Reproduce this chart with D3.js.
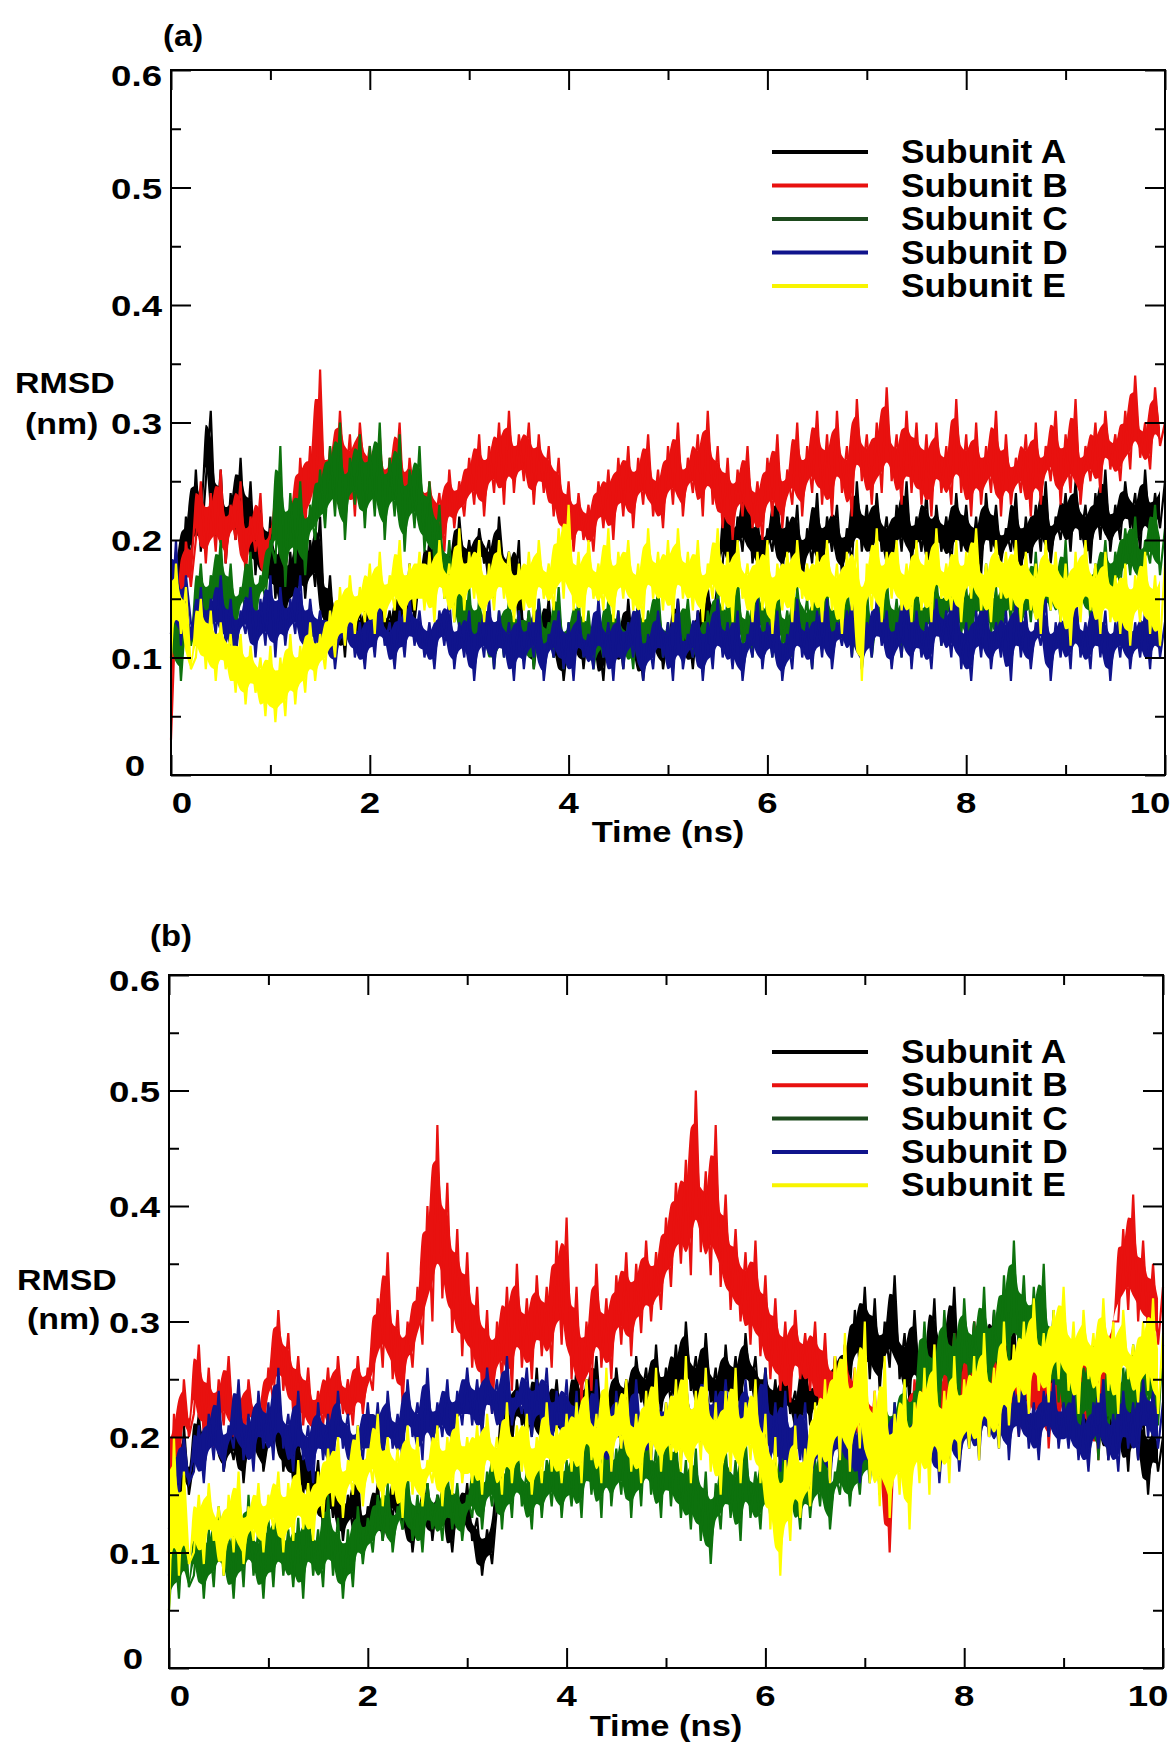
<!DOCTYPE html>
<html><head><meta charset="utf-8">
<script src="https://cdn.jsdelivr.net/npm/d3@7"></script>
<style>
body{margin:0;background:#fff}
svg{display:block;background:#fff}
text{font-family:"Liberation Sans",Arial,Helvetica,sans-serif;font-weight:bold;fill:#000}
</style>
</head><body>
<svg id="chart" width="1174" height="1743"></svg>
<script>
// ---------------- data ----------------
const subunits = ["Subunit A","Subunit B","Subunit C","Subunit D","Subunit E"];
const xMajorTicks = [0,2,4,6,8,10];
const xMinorTicks = [1,3,5,7,9];
const xTickLabels = ["0","2","4","6","8","10"];
const yMajorTicks = [0,0.1,0.2,0.3,0.4,0.5,0.6];
const yMinorTicks = [0.05,0.15,0.25,0.35,0.45,0.55];
const yTickLabels = ["0","0.1","0.2","0.3","0.4","0.5","0.6"];
const timeRange = [0,10];          // ns, samples evenly spaced
const panelLabels = ["(a)","(b)"];
const xTitle = "Time (ns)";
const yTitle = ["RMSD","(nm)"];

// panel (a) RMSD (nm), sampled every 0.05 ns
const aSubA = [0.12,0.19,0.15,0.22,0.18,
0.26,0.19,0.25,0.31,0.2,0.26,0.18,0.24,0.2,0.27,0.19,0.25,0.17,0.23,0.16,0.22,
0.15,0.2,0.13,0.19,0.14,0.21,0.15,0.2,0.16,0.22,
0.12,0.17,0.11,0.15,0.1,0.16,0.12,0.14,0.1,0.15,0.11,0.17,0.12,0.14,0.1,0.16,0.12,0.18,0.13,0.17,
0.16,0.2,0.15,0.21,0.17,0.19,0.16,0.22,0.17,0.2,0.16,0.21,0.18,0.2,0.15,0.22,0.17,0.19,0.15,0.2,
0.1,0.14,0.09,0.13,0.11,0.15,0.1,0.13,0.08,0.12,0.1,0.14,0.09,0.13,0.11,0.12,0.08,0.14,0.1,0.13,
0.09,0.15,0.1,0.12,0.08,0.13,0.1,0.14,0.09,0.12,0.11,0.15,0.1,0.13,0.09,0.14,0.11,0.16,0.12,0.15,
0.18,0.23,0.17,0.22,0.19,0.25,0.18,0.22,0.17,0.21,
0.19,0.24,0.17,0.22,0.18,0.23,0.16,0.21,0.18,0.24,0.17,0.22,0.19,0.23,0.17,0.21,0.18,0.25,0.19,0.23,
0.18,0.24,0.19,0.22,0.17,0.23,0.19,0.25,0.18,0.22,0.19,0.24,0.17,0.23,0.19,0.22,0.18,0.24,0.19,0.23,
0.18,0.22,0.17,0.24,0.19,0.23,0.18,0.21,0.19,0.24,0.17,0.22,0.18,0.23,0.19,0.25,0.18,0.22,0.2,0.24,
0.19,0.25,0.2,0.23,0.18,0.24,0.2,0.26,0.19,0.23,0.2,0.25,0.21,0.24,0.19,0.26,0.2,0.24,0.21,0.25];
const aSubB = [0.03,0.15,0.12,0.2,0.16,
0.2,0.25,0.18,0.24,0.19,0.26,0.18,0.23,0.2,0.25,0.17,0.22,0.19,0.24,0.16,0.21,
0.2,0.25,0.17,0.23,0.19,0.27,0.21,0.28,0.22,0.345,
0.22,0.28,0.23,0.31,0.24,0.29,0.22,0.3,0.25,0.28,0.23,0.29,0.22,0.27,0.24,0.3,0.21,0.27,0.23,0.26,
0.2,0.25,0.21,0.24,0.19,0.26,0.21,0.25,0.22,0.27,0.23,0.29,0.22,0.28,0.24,0.3,0.23,0.31,0.24,0.29,
0.25,0.3,0.23,0.29,0.24,0.28,0.22,0.27,0.2,0.25,0.19,0.24,0.2,0.23,0.19,0.25,0.21,0.26,0.2,0.27,
0.22,0.28,0.21,0.27,0.23,0.29,0.22,0.26,0.21,0.28,0.23,0.3,0.22,0.27,0.24,0.29,0.22,0.31,0.23,0.28,
0.21,0.27,0.2,0.26,0.22,0.28,0.21,0.25,0.2,0.27,0.22,0.29,0.21,0.26,0.23,0.3,0.22,0.28,0.24,0.31,
0.23,0.29,0.22,0.31,0.24,0.28,0.22,0.32,0.25,0.29,0.23,0.3,0.24,0.33,0.25,0.29,0.23,0.31,0.24,0.3,
0.23,0.29,0.22,0.3,0.24,0.28,0.23,0.32,0.24,0.29,0.22,0.3,0.23,0.28,0.24,0.31,0.22,0.29,0.23,0.27,
0.24,0.29,0.22,0.3,0.23,0.28,0.25,0.31,0.23,0.29,0.24,0.32,0.23,0.28,0.25,0.3,0.24,0.31,0.26,0.29,
0.25,0.31,0.26,0.34,0.27,0.3,0.26,0.33,0.28,0.3];
const aSubC = [0.1,0.16,0.08,0.14,0.11,
0.13,0.18,0.12,0.17,0.14,0.2,0.13,0.18,0.12,0.16,0.14,0.19,0.13,0.17,0.15,0.2,
0.18,0.28,0.16,0.24,0.18,0.25,0.17,0.23,0.2,0.26,
0.21,0.28,0.22,0.3,0.2,0.27,0.23,0.29,0.21,0.28,0.22,0.3,0.2,0.27,0.22,0.29,0.19,0.26,0.21,0.28,
0.19,0.25,0.18,0.23,0.15,0.2,0.13,0.18,0.11,0.16,0.1,0.15,0.11,0.14,0.09,0.14,0.1,0.15,0.11,0.14,
0.1,0.14,0.09,0.15,0.11,0.13,0.1,0.16,0.09,0.13,0.11,0.15,0.1,0.14,0.09,0.12,0.1,0.15,0.11,0.14,
0.1,0.13,0.09,0.15,0.1,0.14,0.11,0.16,0.1,0.13,0.09,0.14,0.11,0.15,0.1,0.13,0.09,0.14,0.1,0.16,
0.11,0.15,0.1,0.17,0.11,0.14,0.1,0.16,0.12,0.15,0.1,0.17,0.11,0.14,0.1,0.16,0.12,0.15,0.09,0.16,
0.11,0.16,0.1,0.15,0.12,0.17,0.1,0.15,0.11,0.16,0.1,0.14,0.12,0.17,0.11,0.15,0.1,0.16,0.12,0.17,
0.11,0.15,0.12,0.17,0.11,0.16,0.13,0.18,0.12,0.16,0.11,0.17,0.13,0.18,0.12,0.16,0.11,0.17,0.13,0.19,
0.12,0.17,0.13,0.19,0.12,0.16,0.14,0.18,0.13,0.2,0.12,0.17,0.14,0.19,0.13,0.18,0.15,0.2,0.14,0.19,
0.16,0.21,0.17,0.22,0.16,0.2,0.18,0.23,0.17,0.21];
const aSubD = [0.12,0.2,0.11,0.17,0.13,
0.11,0.16,0.1,0.15,0.12,0.17,0.11,0.15,0.1,0.14,0.12,0.16,0.1,0.15,0.11,0.17,
0.1,0.16,0.11,0.15,0.12,0.17,0.1,0.15,0.11,0.14,
0.1,0.14,0.09,0.13,0.11,0.15,0.1,0.13,0.09,0.14,0.1,0.15,0.11,0.13,0.09,0.14,0.1,0.15,0.11,0.14,
0.1,0.13,0.09,0.14,0.11,0.15,0.09,0.13,0.1,0.14,0.08,0.13,0.1,0.15,0.09,0.14,0.1,0.13,0.08,0.14,
0.09,0.13,0.1,0.15,0.08,0.12,0.1,0.14,0.09,0.13,0.08,0.14,0.1,0.12,0.09,0.15,0.1,0.13,0.08,0.14,
0.09,0.13,0.1,0.15,0.08,0.12,0.09,0.14,0.1,0.13,0.08,0.15,0.09,0.12,0.1,0.14,0.08,0.13,0.09,0.15,
0.1,0.13,0.09,0.14,0.08,0.12,0.1,0.15,0.09,0.13,0.1,0.14,0.08,0.12,0.09,0.15,0.1,0.13,0.09,0.14,
0.1,0.15,0.09,0.13,0.11,0.14,0.1,0.16,0.09,0.13,0.1,0.15,0.11,0.14,0.09,0.13,0.1,0.16,0.09,0.14,
0.1,0.13,0.09,0.15,0.11,0.14,0.1,0.16,0.09,0.13,0.08,0.14,0.1,0.15,0.09,0.13,0.1,0.14,0.08,0.15,
0.1,0.14,0.09,0.13,0.11,0.15,0.08,0.13,0.1,0.14,0.09,0.16,0.1,0.13,0.09,0.15,0.1,0.14,0.08,0.13,
0.1,0.15,0.09,0.13,0.1,0.14,0.09,0.15,0.1,0.13];
const aSubE = [0.1,0.18,0.12,0.16,0.09,
0.1,0.15,0.09,0.14,0.08,0.13,0.09,0.12,0.07,0.12,0.06,0.11,0.07,0.1,0.05,0.11,
0.045,0.1,0.05,0.12,0.06,0.11,0.07,0.13,0.08,0.12,
0.09,0.14,0.1,0.16,0.11,0.17,0.12,0.16,0.13,0.18,0.12,0.19,0.13,0.17,0.14,0.2,0.13,0.18,0.14,0.19,
0.14,0.19,0.13,0.2,0.15,0.18,0.13,0.21,0.14,0.19,0.15,0.2,0.13,0.18,0.14,0.2,0.15,0.19,0.13,0.18,
0.14,0.19,0.13,0.2,0.15,0.18,0.14,0.21,0.15,0.23,0.14,0.19,0.13,0.2,0.15,0.18,0.14,0.21,0.13,0.19,
0.15,0.2,0.14,0.18,0.13,0.21,0.15,0.19,0.14,0.2,0.13,0.21,0.15,0.19,0.14,0.2,0.13,0.18,0.15,0.21,
0.14,0.19,0.13,0.2,0.15,0.18,0.13,0.19,0.14,0.2,0.12,0.18,0.14,0.19,0.13,0.2,0.15,0.18,0.14,0.19,
0.13,0.2,0.14,0.18,0.12,0.19,0.14,0.2,0.08,0.18,0.14,0.21,0.13,0.19,0.15,0.2,0.14,0.18,0.13,0.2,
0.14,0.19,0.13,0.21,0.15,0.18,0.14,0.2,0.13,0.19,0.15,0.21,0.14,0.18,0.13,0.2,0.15,0.19,0.14,0.2,
0.13,0.19,0.14,0.18,0.12,0.2,0.14,0.19,0.13,0.18,0.11,0.19,0.13,0.2,0.14,0.18,0.12,0.19,0.13,0.17,
0.12,0.18,0.11,0.17,0.13,0.19,0.12,0.17,0.11,0.18];

// panel (b) RMSD (nm), sampled every 0.05 ns
const bSubA = [0.12,0.2,0.1,0.21,0.15,
0.18,0.22,0.17,0.21,0.19,0.23,0.17,0.2,0.18,0.22,0.16,0.21,0.18,0.23,0.17,0.2,0.19,0.24,0.17,0.21,0.16,0.2,0.15,0.19,0.14,0.18,
0.12,0.17,0.13,0.16,0.11,0.15,0.12,0.17,0.1,0.14,0.12,0.16,0.11,0.15,0.13,0.17,0.12,0.15,0.1,0.14,0.12,0.16,0.11,0.15,0.13,0.14,0.1,0.15,0.12,0.16,0.11,0.13,0.08,0.12,0.09,0.14,
0.2,0.24,0.19,0.25,0.21,0.23,0.2,0.26,0.19,0.24,0.21,0.25,0.2,0.23,
0.21,0.26,0.2,0.25,0.22,0.27,0.21,0.24,0.2,0.26,0.22,0.25,0.21,0.27,0.23,0.26,0.21,0.28,0.22,0.26,
0.23,0.28,0.22,0.3,0.24,0.27,0.22,0.29,0.23,0.26,0.21,0.28,0.23,0.27,0.22,0.29,0.24,0.27,0.21,0.26,
0.21,0.25,0.2,0.26,0.22,0.24,0.2,0.27,0.21,0.25,0.22,0.26,0.2,0.27,0.23,0.28,0.24,0.31,0.26,0.33,
0.25,0.32,0.24,0.3,0.26,0.34,0.25,0.29,0.23,0.31,0.24,0.28,0.25,0.32,0.23,0.3,0.25,0.33,0.24,0.29,
0.24,0.3,0.23,0.29,0.25,0.31,0.22,0.28,0.24,0.3,0.23,0.27,0.22,0.29,0.24,0.28,0.21,0.27,0.23,0.26,
0.21,0.26,0.2,0.25,0.19,0.27,0.2,0.24,0.18,0.25,0.19,0.23,0.17,0.24,0.18,0.22,0.15,0.21,0.17,0.2];
const bSubB = [0.1,0.22,0.17,0.25,0.2,
0.22,0.28,0.2,0.26,0.19,0.25,0.21,0.27,0.2,0.24,0.19,0.25,0.21,0.23,0.2,0.26,
0.23,0.31,0.24,0.29,0.22,0.27,0.21,0.26,0.2,0.24,
0.21,0.26,0.2,0.27,0.22,0.25,0.21,0.27,0.22,0.26,
0.24,0.32,0.26,0.36,0.25,0.31,0.23,0.3,0.26,0.33,
0.28,0.4,0.3,0.47,0.32,0.42,0.29,0.38,0.27,0.36,
0.26,0.33,0.24,0.31,0.22,0.3,0.25,0.33,0.24,0.35,0.26,0.32,0.25,0.34,0.27,0.33,0.26,0.37,0.28,0.39,
0.25,0.33,0.23,0.3,0.24,0.35,0.26,0.32,0.25,0.34,
0.28,0.36,0.27,0.35,0.29,0.37,0.3,0.36,0.31,0.39,
0.33,0.42,0.35,0.44,0.34,0.5,0.36,0.43,0.34,0.47,
0.33,0.41,0.31,0.38,0.3,0.36,0.28,0.37,0.27,0.34,
0.25,0.32,0.24,0.3,0.23,0.31,0.25,0.29,0.24,0.3,
0.22,0.29,0.21,0.27,0.2,0.28,0.22,0.26,0.19,0.25,
0.18,0.24,0.16,0.22,0.1,0.21,0.17,0.23,0.18,0.25,
0.2,0.27,0.21,0.28,0.19,0.26,0.22,0.29,0.2,0.27,0.21,0.3,0.22,0.26,0.2,0.28,0.21,0.27,0.19,0.25,
0.2,0.28,0.22,0.27,0.21,0.29,0.19,0.26,0.2,0.28,0.22,0.27,0.21,0.29,0.2,0.26,0.18,0.27,0.22,0.3,
0.3,0.38,0.31,0.41,0.3,0.37,0.29,0.35,0.28,0.33];
const bSubC = [0.05,0.12,0.06,0.14,0.07,
0.08,0.13,0.06,0.12,0.07,0.14,0.08,0.12,0.06,0.13,0.07,0.15,0.08,0.12,0.06,0.13,0.07,0.14,0.08,0.12,0.07,0.13,0.06,0.14,0.08,0.12,0.07,0.15,0.08,0.13,0.06,0.12,0.07,0.14,0.09,0.13,
0.1,0.15,0.11,0.16,0.1,0.14,0.12,0.17,0.11,0.15,0.1,0.16,0.12,0.15,0.11,0.17,0.12,0.16,0.11,0.15,
0.13,0.18,0.12,0.17,0.14,0.19,0.12,0.18,0.13,0.2,0.14,0.17,0.12,0.19,0.13,0.18,0.14,0.2,0.13,0.18,
0.14,0.19,0.13,0.21,0.15,0.2,0.13,0.22,0.14,0.19,0.15,0.21,0.13,0.2,0.14,0.22,0.15,0.19,0.13,0.21,
0.14,0.2,0.13,0.18,0.12,0.19,0.11,0.17,0.09,0.16,0.12,0.19,0.13,0.18,0.11,0.2,0.13,0.17,0.12,0.19,
0.13,0.18,0.12,0.2,0.14,0.17,0.12,0.19,0.13,0.18,0.14,0.2,0.12,0.17,0.15,0.2,0.14,0.19,0.15,0.21,
0.16,0.22,0.15,0.24,0.17,0.23,0.18,0.25,0.19,0.24,
0.22,0.3,0.23,0.28,0.22,0.31,0.24,0.29,0.23,0.32,0.25,0.3,0.24,0.33,0.23,0.31,0.25,0.34,0.26,0.37,
0.27,0.34,0.25,0.33,0.26,0.35,0.24,0.31,0.23,0.3,
0.2,0.27,0.19,0.26,0.21,0.28,0.18,0.25,0.2,0.29,0.19,0.26,0.21,0.28,0.2,0.27,0.22,0.3,0.21,0.28];
const bSubD = [0.08,0.18,0.15,0.2,0.16,
0.17,0.21,0.16,0.22,0.18,0.24,0.17,0.21,0.19,0.25,0.18,0.22,0.17,0.24,0.19,0.23,0.18,0.26,0.19,0.22,0.17,0.24,0.18,0.21,0.16,0.23,0.18,0.22,0.17,0.24,0.19,0.22,0.17,0.21,0.18,0.23,
0.18,0.23,0.17,0.24,0.19,0.22,0.18,0.25,0.2,0.23,0.18,0.26,0.19,0.23,0.2,0.25,0.19,0.24,0.21,0.26,
0.21,0.25,0.2,0.26,0.22,0.25,0.2,0.27,0.21,0.24,0.22,0.26,0.2,0.25,0.21,0.26,0.19,0.24,0.2,0.25,
0.18,0.24,0.17,0.23,0.19,0.25,0.18,0.22,0.17,0.24,0.19,0.23,0.18,0.25,0.19,0.22,0.18,0.24,0.19,0.23,
0.19,0.24,0.18,0.25,0.2,0.23,0.19,0.26,0.18,0.24,0.2,0.25,0.19,0.23,0.18,0.25,0.2,0.24,0.19,0.26,
0.18,0.23,0.17,0.24,0.16,0.22,0.18,0.23,0.15,0.21,0.17,0.24,0.16,0.22,0.18,0.23,0.17,0.21,0.16,0.22,
0.17,0.22,0.16,0.21,0.15,0.23,0.17,0.2,0.16,0.22,0.18,0.21,0.17,0.23,0.16,0.22,0.18,0.24,0.17,0.22,
0.19,0.24,0.18,0.25,0.2,0.23,0.19,0.26,0.18,0.24,0.2,0.25,0.19,0.23,0.18,0.24,0.2,0.25,0.19,0.23,
0.19,0.24,0.18,0.22,0.17,0.23,0.19,0.25,0.18,0.22,0.17,0.24,0.19,0.23,0.18,0.25,0.2,0.24,0.19,0.23];
const bSubE = [0.05,0.2,0.08,0.17,0.09,
0.1,0.15,0.09,0.16,0.11,0.14,0.08,0.15,0.1,0.17,0.09,0.14,0.11,0.16,0.1,0.15,0.12,0.17,0.1,0.16,0.11,0.18,0.12,0.16,0.11,0.17,
0.13,0.19,0.14,0.2,0.13,0.18,0.15,0.21,0.14,0.19,0.16,0.22,0.14,0.2,0.15,0.19,0.13,0.21,0.15,0.2,0.14,0.18,0.16,0.21,0.14,0.2,0.15,0.22,0.16,0.2,
0.16,0.21,0.15,0.22,0.17,0.2,0.15,0.23,0.16,0.21,0.17,0.22,0.15,0.2,0.16,0.23,0.17,0.21,0.16,0.22,
0.17,0.23,0.16,0.25,0.18,0.22,0.16,0.26,0.17,0.23,0.19,0.25,0.17,0.22,0.16,0.24,0.18,0.26,0.17,0.23,
0.18,0.25,0.17,0.27,0.16,0.24,0.18,0.26,0.17,0.23,0.15,0.24,0.17,0.26,0.16,0.23,0.18,0.25,0.16,0.22,
0.12,0.2,0.08,0.18,0.11,0.21,0.13,0.19,0.14,0.23,
0.17,0.25,0.16,0.27,0.18,0.29,0.17,0.26,0.19,0.3,
0.16,0.24,0.14,0.27,0.13,0.22,0.15,0.25,0.12,0.23,0.16,0.26,0.15,0.28,0.17,0.24,0.16,0.27,0.18,0.25,
0.19,0.27,0.18,0.29,0.2,0.26,0.19,0.3,0.21,0.28,
0.23,0.3,0.22,0.32,0.24,0.29,0.23,0.31,0.25,0.33,0.24,0.3,0.22,0.31,0.25,0.29,0.23,0.32,0.24,0.3,0.22,0.31,0.25,0.28,0.23,0.3,0.24,0.32,0.22,0.29];

// ---------------- style / layout ----------------
const seriesColors = ["#000000","#e8110f","#0d720d","#10148c","#ffff00"];
const legendColors = ["#000000","#e8110f","#1d4a1d","#10148c","#f8f400"];

const panels = [
  {label:panelLabels[0], series:[aSubA,aSubB,aSubC,aSubD,aSubE],
   left:171,right:1165,top:70,bottom:775, labelPos:[163,46],
   rmsdY:393, nmY:434, rmsdX:15, nmX:25, titleY:842, legendY:152, legendStep:33.5},
  {label:panelLabels[1], series:[bSubA,bSubB,bSubC,bSubD,bSubE],
   left:169,right:1163,top:975,bottom:1668, labelPos:[150,946],
   rmsdY:1290, nmY:1329, rmsdX:17, nmX:27, titleY:1736, legendY:1052, legendStep:33.3}
];

const svg = d3.select("#chart");
svg.append("rect").attr("width",1174).attr("height",1743).attr("fill","#fff");

function stretchedText(g, str, x, y, size, sx, anchor){
  return g.append("text")
    .attr("transform",`translate(${x},${y}) scale(${sx},1)`)
    .attr("text-anchor",anchor||"start")
    .style("font-size",size+"px")
    .text(str);
}

panels.forEach(p=>{
  const x = d3.scaleLinear().domain(timeRange).range([p.left,p.right]);
  const y = d3.scaleLinear().domain([0,0.6]).range([p.bottom,p.top]);
  const g = svg.append("g");

  // data traces: dense core band between consecutive samples + the zigzag trace
  const line = d3.line().x(d=>x(d.t)).y(d=>y(d.v));
  const band = d3.area().x(d=>x(d.t)).y0(d=>y(d.lo)).y1(d=>y(d.hi)).curve(d3.curveMonotoneX);
  p.series.forEach((vals,si)=>{
    const n = vals.length;
    const pts = vals.map((v,i)=>({t:timeRange[0]+(timeRange[1]-timeRange[0])*i/(n-1), v}));
    const core = pts.slice(0,n-1).map((d,i)=>{
      const a = Math.min(d.v,pts[i+1].v), b = Math.max(d.v,pts[i+1].v), r = b-a;
      return {t:d.t, lo:a+0.2*r, hi:b-0.2*r};
    });
    g.append("path").attr("d",band(core)).attr("fill",seriesColors[si]).attr("stroke","none");
    g.append("path").attr("d",line(pts))
      .attr("fill","none").attr("stroke",seriesColors[si])
      .attr("stroke-width",2.2).attr("stroke-linejoin","miter");
  });

  // axes ticks (inward, mirrored on all sides)
  const tickStyle = sel=>{sel.select(".domain").remove();
    sel.selectAll("line").attr("stroke","#000").attr("stroke-width",2);
    sel.selectAll("text").remove();};
  g.append("g").attr("transform",`translate(0,${p.bottom})`)
    .call(d3.axisBottom(x).tickValues(xMajorTicks).tickSize(-20).tickFormat("")).call(tickStyle);
  g.append("g").attr("transform",`translate(0,${p.bottom})`)
    .call(d3.axisBottom(x).tickValues(xMinorTicks).tickSize(-10).tickFormat("")).call(tickStyle);
  g.append("g").attr("transform",`translate(0,${p.top})`)
    .call(d3.axisTop(x).tickValues(xMajorTicks).tickSize(-20).tickFormat("")).call(tickStyle);
  g.append("g").attr("transform",`translate(0,${p.top})`)
    .call(d3.axisTop(x).tickValues(xMinorTicks).tickSize(-10).tickFormat("")).call(tickStyle);
  g.append("g").attr("transform",`translate(${p.left},0)`)
    .call(d3.axisLeft(y).tickValues(yMajorTicks).tickSize(-20).tickFormat("")).call(tickStyle);
  g.append("g").attr("transform",`translate(${p.left},0)`)
    .call(d3.axisLeft(y).tickValues(yMinorTicks).tickSize(-10).tickFormat("")).call(tickStyle);
  g.append("g").attr("transform",`translate(${p.right},0)`)
    .call(d3.axisRight(y).tickValues(yMajorTicks).tickSize(-20).tickFormat("")).call(tickStyle);
  g.append("g").attr("transform",`translate(${p.right},0)`)
    .call(d3.axisRight(y).tickValues(yMinorTicks).tickSize(-10).tickFormat("")).call(tickStyle);

  // frame
  g.append("rect").attr("x",p.left).attr("y",p.top)
    .attr("width",p.right-p.left).attr("height",p.bottom-p.top)
    .attr("fill","none").attr("stroke","#000").attr("stroke-width",2);

  // x tick labels
  xMajorTicks.forEach((v,i)=>{
    let dx = 0;
    if(i===0) dx = 11;
    if(i===xMajorTicks.length-1) dx = -15;
    stretchedText(g, xTickLabels[i], x(v)+dx, p.bottom+38, 30, 1.22, "middle");
  });
  // y tick labels
  yMajorTicks.forEach((v,i)=>{
    let dy = 11, xr = p.left-9;
    if(i===0){ dy = 1; xr = p.left-26; }
    if(i===yMajorTicks.length-1) dy = 16;
    stretchedText(g, yTickLabels[i], xr, y(v)+dy, 30, 1.22, "end");
  });

  // titles
  stretchedText(g, p.label, p.labelPos[0], p.labelPos[1], 29, 1.13, "start");
  stretchedText(g, yTitle[0], p.rmsdX, p.rmsdY, 30, 1.13, "start");
  stretchedText(g, yTitle[1], p.nmX, p.nmY, 30, 1.13, "start");
  stretchedText(g, xTitle, (p.left+p.right)/2, p.titleY, 30, 1.15, "middle");

  // legend
  subunits.forEach((name,i)=>{
    const ly = p.legendY + i*p.legendStep;
    g.append("line").attr("x1",772).attr("x2",868).attr("y1",ly).attr("y2",ly)
      .attr("stroke",legendColors[i]).attr("stroke-width",4);
    stretchedText(g, name, 901, ly+11, 33, 1.07, "start");
  });
});
</script>
</body></html>
